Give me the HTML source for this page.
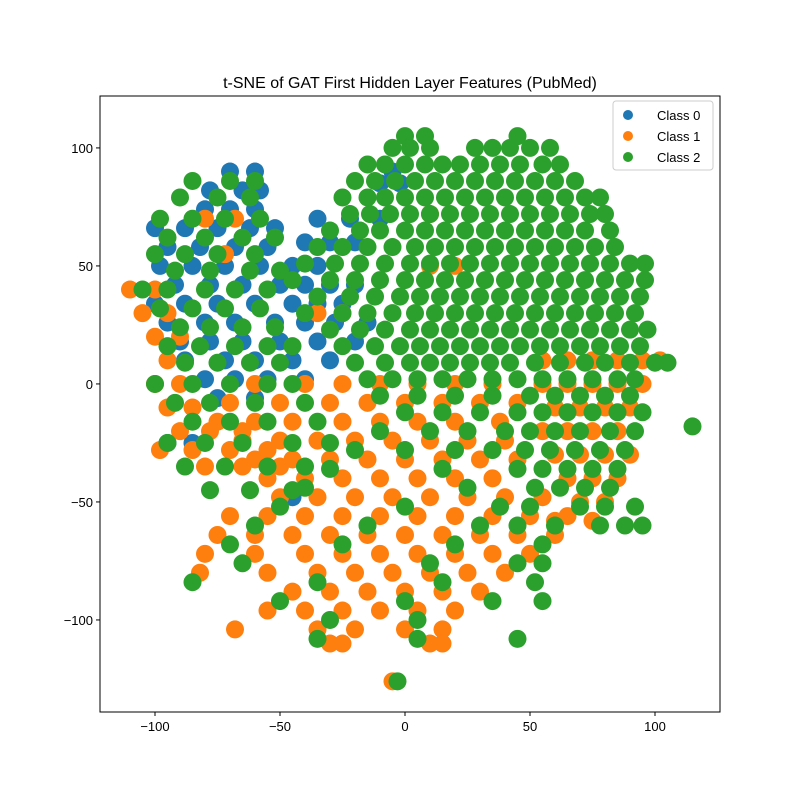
<!DOCTYPE html>
<html><head><meta charset="utf-8"><style>
body{margin:0;background:#fff;}
svg{display:block;font-family:"Liberation Sans","DejaVu Sans",sans-serif;}
</style></head><body>
<svg id="chart" width="800" height="800" viewBox="0 0 800 800">
<rect x="0" y="0" width="800" height="800" fill="#fff"/>
<text x="410" y="88" text-anchor="middle" font-size="16" fill="#000">t-SNE of GAT First Hidden Layer Features (PubMed)</text>
<g id="points"></g>
<g id="axes"></g>
<g>
<rect x="613" y="101" width="100" height="69" rx="3" fill="#fff" fill-opacity="0.8" stroke="#ccc"/>
<circle cx="628" cy="115" r="5" fill="#1f77b4"/>
<text x="657" y="120" font-size="13">Class 0</text>
<circle cx="628" cy="136" r="5" fill="#ff7f0e"/>
<text x="657" y="141" font-size="13">Class 1</text>
<circle cx="628" cy="157" r="5" fill="#2ca02c"/>
<text x="657" y="162" font-size="13">Class 2</text>
</g>
</svg>
<script>
const xTicks = [-100, -50, 0, 50, 100];
const yTicks = [-100, -50, 0, 50, 100];
const classNames = ["Class 0", "Class 1", "Class 2"];
const classColors = ["#1f77b4", "#ff7f0e", "#2ca02c"];
// rows: [y, [x values]]
const class0Rows = [
[90,[-70,-60,-5]],[85,[-10,-2]],[82,[-78,-65,-58]],[74,[-80,-70,-60]],[70,[-35,-22,-10]],
[66,[-100,-88,-75,-62,-52]],[60,[-40,-30,-20]],[58,[-95,-82,-68,-55]],
[50,[-98,-85,-72,-58,-45,-35]],[42,[-92,-78,-65,-50,-40,-30,-20]],
[34,[-100,-88,-75,-60,-45,-35,-25]],[26,[-95,-80,-68,-52,-40,-28,-15]],
[18,[-90,-78,-65,-50,-35,-20]],[10,[-88,-72,-60,-45,-30]],[2,[-80,-68,-55,-40]],
[-6,[-75,-60]],[-25,[-95,-85]],[-48,[-45]]
];
const class1Rows = [
[72,[10]],[70,[-68,-80]],[55,[-72]],[50,[10,20]],[40,[-110,-100]],[30,[-105,-95,-35,-25]],
[20,[-100,-90]],[10,[-95,55,65,75,85,95,102]],
[0,[-100,-90,-60,-40,-25,-10,5,20,35,55,65,75,85,95]],
[-8,[-70,-50,-30,-15,0,15,30,45]],[-10,[-95,-85,60,70,80,90]],
[-16,[-75,-60,-45,-25,-10,5,20,38]],[-20,[-90,-78,-65,55,65,75,85]],
[-24,[-65,-50,-35,-20,-5,10,25,40]],[-28,[-98,-85,-70,-55]],
[-30,[60,70,80,90]],[-32,[-60,-45,-30,-15,0,15,30,45]],[-35,[-80,-65,-50]],
[-40,[-55,-40,-25,-10,5,20,35,65,75,85]],[-48,[-50,-35,-20,-5,10,25,40,55]],
[-50,[70,80]],[-56,[-70,-55,-40,-25,-10,5,20,35,50,65]],[-58,[60,75]],
[-64,[-75,-60,-45,-30,-15,0,15,30,45,60]],[-72,[-80,-60,-40,-25,-10,5,20,35,50]],
[-80,[-82,-55,-35,-20,-5,10,25,40]],[-88,[-45,-30,-15,0,15,30]],
[-96,[-55,-40,-25,-10,5,20]],[-104,[-68,-35,-20,0,15]],[-110,[-30,-25,10,15]],[-126,[-5]]
];
const class2Rows = [
[105,[0,8,45]],[100,[-5,2,10,28,35,42,50,58]],[93,[-15,-8,0,8,15,22,30,38,46,55,62]],
[86,[-85,-70,-60,-20,-12,-4,4,12,20,28,36,44,52,60,68]],
[79,[-90,-75,-62,-25,-15,-8,0,8,16,24,32,40,48,56,64,72,78]],
[72,[-22,-14,-6,2,10,18,26,34,42,50,58,66,74,80]],[70,[-98,-85,-72,-58]],
[65,[-30,-18,-10,0,8,16,24,32,40,48,56,64,72,82]],[62,[-95,-80,-65,-52]],
[58,[-35,-25,-15,-5,4,12,20,28,36,44,52,60,68,76,84]],[55,[-100,-88,-75,-60]],
[51,[-40,-28,-18,-8,2,10,18,26,34,42,50,58,66,74,82,90,96]],[48,[-92,-78,-62,-50]],
[44,[-45,-30,-20,-10,0,8,16,24,32,40,48,56,64,72,80,88,96]],[40,[-105,-95,-80,-68,-55]],
[37,[-35,-22,-12,-2,6,14,22,30,38,46,54,62,70,78,86,94]],[32,[-98,-85,-72,-58]],
[30,[-40,-25,-15,-5,4,12,20,28,36,44,52,60,68,76,84,92]],[24,[-90,-78,-65,-52]],
[23,[-30,-18,-8,2,10,18,26,34,42,50,58,66,74,82,90,97]],
[16,[-95,-82,-68,-55,-45,-25,-12,-2,6,14,22,30,38,46,54,62,70,78,86,94]],
[9,[-88,-75,-62,-50,-20,-8,2,10,18,26,34,42,52,62,72,80,90,100,105]],
[2,[-15,-5,5,15,25,35,45,55,65,75,85,92]],[0,[-100,-85,-70,-55,-45]],
[-5,[-10,5,20,35,50,60,70,80,90]],[-8,[-92,-78,-60,-40]],
[-12,[0,15,30,45,55,65,75,85,95]],[-16,[-85,-70,-55,-35]],[-18,[115]],
[-20,[-10,10,25,40,50,60,70,82,92]],[-25,[-95,-80,-65,-45,-30]],
[-28,[-20,0,20,35,48,58,68,78,88]],[-35,[-88,-72,-55,-40]],
[-36,[-30,15,45,55,65,75,85]],[-44,[-40,25,52,62,72,82]],[-45,[-78,-62,-45]],
[-52,[-50,0,38,50,70,80,92]],[-60,[-60,-15,30,45,60,78,88,95]],
[-68,[-70,-25,20,55]],[-76,[-65,10,45,55]],
[-84,[-85,-35,15,52]],[-92,[-50,0,35,55]],
[-100,[-30,5]],[-108,[-35,5,45]],[-126,[-3]]
];
const allRows = [class0Rows, class1Rows, class2Rows];

const NS = "http://www.w3.org/2000/svg";
const plot = {left:100, right:720, top:96, bottom:712};
const xMin = -122, xMax = 126, yMin = -139, yMax = 122;
function sx(v){ return plot.left + (v - xMin) / (xMax - xMin) * (plot.right - plot.left); }
function sy(v){ return plot.bottom - (v - yMin) / (yMax - yMin) * (plot.bottom - plot.top); }

const pg = document.getElementById("points");
allRows.forEach((rows, ci) => {
  const g = document.createElementNS(NS, "g");
  
  
  rows.forEach(row => {
    row[1].forEach(xv => {
      const c = document.createElementNS(NS, "circle");
      c.setAttribute("cx", sx(xv));
      c.setAttribute("cy", sy(row[0]));
      c.setAttribute("r", 9);
      c.setAttribute("fill", classColors[ci]);
      
      
      g.appendChild(c);
    });
  });
  pg.appendChild(g);
});

const ax = document.getElementById("axes");
const frame = document.createElementNS(NS, "rect");
frame.setAttribute("x", plot.left); frame.setAttribute("y", plot.top);
frame.setAttribute("width", plot.right - plot.left); frame.setAttribute("height", plot.bottom - plot.top);
frame.setAttribute("fill", "none"); frame.setAttribute("stroke", "#000"); frame.setAttribute("stroke-width", "1");


ax.appendChild(frame);
xTicks.forEach(t => {
  const x = sx(t);
  const l = document.createElementNS(NS, "line");
  l.setAttribute("x1", x); l.setAttribute("x2", x); l.setAttribute("y1", plot.bottom); l.setAttribute("y2", plot.bottom + 4);
  l.setAttribute("stroke", "#000");
  
  
  ax.appendChild(l);
  const tx = document.createElementNS(NS, "text");
  tx.setAttribute("x", x); tx.setAttribute("y", plot.bottom + 19);
  tx.setAttribute("text-anchor", "middle"); tx.setAttribute("font-size", "13");
  tx.textContent = t < 0 ? "\u2212" + Math.abs(t) : String(t);
  
  
  ax.appendChild(tx);
});
yTicks.forEach(t => {
  const y = sy(t);
  const l = document.createElementNS(NS, "line");
  l.setAttribute("x1", plot.left - 4); l.setAttribute("x2", plot.left); l.setAttribute("y1", y); l.setAttribute("y2", y);
  l.setAttribute("stroke", "#000");
  
  
  ax.appendChild(l);
  const tx = document.createElementNS(NS, "text");
  tx.setAttribute("x", plot.left - 7); tx.setAttribute("y", y + 5);
  tx.setAttribute("text-anchor", "end"); tx.setAttribute("font-size", "13");
  tx.textContent = t < 0 ? "\u2212" + Math.abs(t) : String(t);
  
  
  ax.appendChild(tx);
});
</script>
</body></html>
